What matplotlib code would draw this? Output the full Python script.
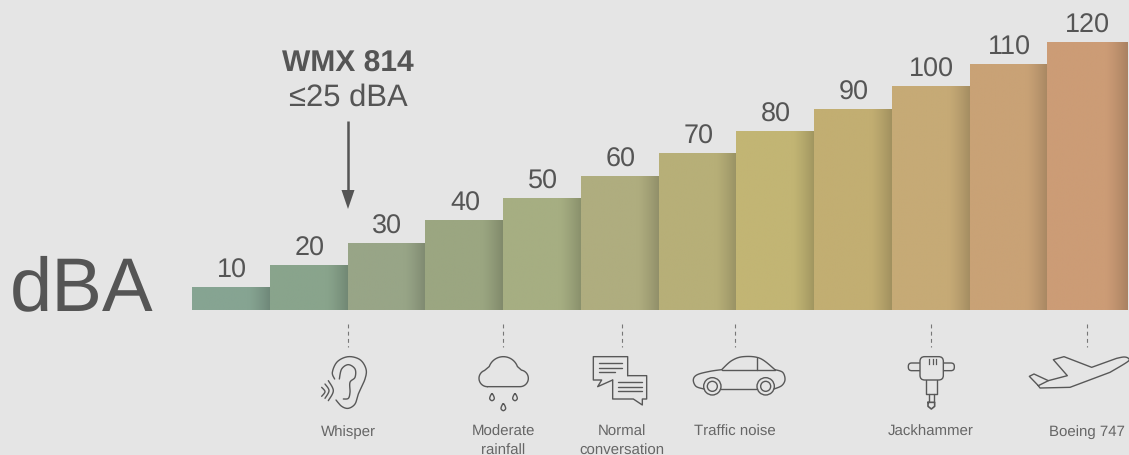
import numpy as np
import matplotlib
matplotlib.use("Agg")
import matplotlib.pyplot as plt
from matplotlib.patches import Circle, FancyBboxPatch

levels = [10, 20, 30, 40, 50, 60, 70, 80, 90, 100, 110, 120]
bar_colors = ["#86A492", "#89A48C", "#98A587", "#9BA681", "#A6AE82", "#AFAD7F",
              "#B7AF78", "#C2B574", "#C2AE72", "#C6AA76", "#C9A276", "#CC9C76"]
sources = ["Whisper", "Moderate\nrainfall", "Normal\nconversation",
           "Traffic noise", "Jackhammer", "Boeing 747"]
source_x = [348, 503, 622, 735, 931, 1087]

W, H = 1129, 456
BG = "#E5E5E5"
INK = "#555555"
ICON = "#585858"
plt.rcParams["font.family"] = ["Liberation Sans", "DejaVu Sans"]
plt.rcParams["text.hinting"] = "no_hinting"
plt.rcParams["text.hinting_factor"] = 1

fig = plt.figure(figsize=(W / 100, H / 100), dpi=100, facecolor=BG)

# Bars, on their own data scale
ax = fig.add_axes([192 / W, 1 - 310.9 / H, 933 / W, 268 / H])
ax.axis("off")
shade = np.linspace(0, 1, 200)
for i, (v, c) in enumerate(zip(levels, bar_colors)):
    wid = 1.03 if i == len(levels) - 1 else 1
    bar = ax.bar(i, v, width=wid, align="edge", color=c, linewidth=0, clip_on=False)[0]
    rgb = np.array(matplotlib.colors.to_rgb(c))
    k = 1 - 0.17 * np.clip((shade - 0.72) / 0.28, 0, 1) ** 1.3
    grad = (k[:, None] * rgb)[None, :, :]
    im = ax.imshow(grad, extent=[i, i + wid, 0, v], aspect="auto", zorder=2, interpolation="bilinear")
    im.set_clip_on(False)
    ax.annotate(str(v), (i + 0.5, v), xytext=(0.7, 7.6), textcoords="offset points",
                ha="center", va="baseline", fontsize=19.6, color=INK, annotation_clip=False)
ax.set_xlim(0, len(levels))
ax.set_ylim(0, max(levels))

# Overlay in pixel space for annotation and icons
ov = fig.add_axes([0, 0, 1, 1], facecolor="none")
ov.set_xlim(0, W)
ov.set_ylim(H, 0)
ov.axis("off")

ov.text(81.5, 310, "dBA", fontsize=54.5, color=INK, ha="center", va="baseline")
ov.text(348, 72, "WMX 814", fontsize=21.7, fontweight="bold", color=INK, ha="center", va="baseline")
ov.text(348, 106, "≤25 dBA", fontsize=22, color=INK, ha="center", va="baseline")
ov.plot([348, 348], [122, 195], color=INK, lw=1.8, solid_capstyle="butt")
ov.fill([341.5, 354.5, 348], [191, 191, 210], color=INK, lw=0)

for x, s in zip(source_x, sources):
    ov.plot([x, x], [325, 348], color="#777777", lw=0.8, ls=(0, (3.5, 3)))
    ov.text(x, 425, s, fontsize=11.1, color="#666666", ha="center", va="top", linespacing=1.42)


def smooth(p, closed=False, n=12):
    p = np.asarray(p, float)
    if closed:
        q = np.vstack([p[-1], p, p[0], p[1]])
    else:
        q = np.vstack([p[0], p, p[-1]])
    out = []
    t = np.linspace(0, 1, n, endpoint=False)[:, None]
    for i in range(1, len(q) - 2):
        a, b, c, d = q[i - 1], q[i], q[i + 1], q[i + 2]
        out.append(0.5 * (2 * b + (c - a) * t + (2 * a - 5 * b + 4 * c - d) * t ** 2
                          + (3 * b - a - 3 * c + d) * t ** 3))
    return np.vstack(out + [q[-2][None]])


def draw(pts, org, curve=False, closed=False, lw=1.0):
    p = np.asarray(pts, float)
    if curve:
        p = smooth(p, closed)
    elif closed:
        p = np.vstack([p, p[0]])
    ov.plot(org[0] + p[:, 0] / 3, org[1] + p[:, 1] / 3, color=ICON, lw=lw,
            solid_joinstyle="round", solid_capstyle="round", clip_on=False)


def arc(cx, cy, r, a0, a1, n=24):
    t = np.radians(np.linspace(a0, a1, n))
    return np.c_[cx + r * np.cos(t), cy + r * np.sin(t)]


A = (300, 320)
B = (660, 320)
# Ear
draw([(108, 243), (125, 262), (145, 268), (165, 255), (175, 225), (195, 180), (198, 150),
      (180, 122), (145, 113), (112, 128), (97, 160), (104, 180)], A, True)
draw([(118, 180), (125, 150), (145, 137), (165, 150), (165, 175), (150, 190), (150, 220),
      (145, 238), (130, 240)], A, True)
draw([(85, 185), (100, 215), (85, 245)], A, True)
draw([(75, 195), (87, 215), (75, 238)], A, True)
draw([(65, 205), (75, 218), (65, 232)], A, True)
# Cloud
cloud = np.vstack([arc(562, 178, 25, 90, 250), arc(610, 158, 45, 200, 340),
                   arc(660, 178, 25, -80, 90)])
draw(np.vstack([cloud, cloud[0]]), A)
for dx, dy in [(576, 224), (645, 224), (610, 254)]:
    draw([(dx, dy), (dx - 7, dy + 14), (dx, dy + 21), (dx + 7, dy + 14)], A, True, True)
# Chat
draw([(983, 170), (983, 113), (880, 113), (880, 183), (905, 183), (893, 203), (938, 183)], A)
draw([(983, 170), (1040, 170), (1040, 240), (1027, 240), (1027, 258), (1000, 240), (938, 240), (938, 183)], A)
for seg in [[(897, 133), (967, 133)], [(897, 147), (967, 147)], [(897, 160), (945, 160)],
            [(955, 190), (1025, 190)], [(955, 203), (1025, 203)], [(955, 216), (1025, 216)]]:
    draw(seg, A)
# Car
draw([(132, 210), (108, 202), (100, 182), (112, 167), (150, 157), (185, 152)], B, True)
draw([(345, 152), (368, 160), (375, 182), (365, 200), (342, 210)], B, True)
draw([(185, 152), (215, 125), (250, 113), (300, 118), (345, 152)], B, True)
draw([(180, 210), (292, 210)], B)
draw([(185, 152), (345, 152)], B)
draw([(290, 118), (290, 152)], B)
for cx in (157, 317):
    for r in (26, 15):
        ov.add_patch(Circle((660 + cx / 3, 320 + 202 / 3), r / 3, fc="none", ec=ICON, lw=1.0))


# Jackhammer
def rrect(x0, y0, x1, y1, r, org=B):
    ov.add_patch(FancyBboxPatch((org[0] + (x0 + r) / 3, org[1] + (y0 + r) / 3), (x1 - x0 - 2 * r) / 3,
                                (y1 - y0 - 2 * r) / 3, boxstyle=f"round,pad={r / 3}", fc=BG,
                                ec=ICON, lw=1.0, zorder=3))


rrect(745, 132, 883, 155, 10)
rrect(780, 113, 850, 183, 14)
draw([(797, 183), (797, 225), (832, 225), (832, 183)], B)
draw([(807, 225), (807, 250)], B)
draw([(822, 225), (822, 250)], B)
draw([(804, 250), (824, 250), (824, 262), (814, 270), (804, 262)], B, closed=True, lw=1.2)
for x in (808, 818, 828):
    ov.plot([660 + x / 3] * 2, [320 + 120 / 3, 320 + 135 / 3], color=ICON, lw=0.9, zorder=4)
# Plane
nose = smooth([(1370, 118), (1392, 114), (1405, 118), (1403, 128), (1350, 160)])
draw(np.vstack([[(1135, 200), (1108, 172), (1122, 165), (1165, 185), (1222, 170), (1180, 122),
                 (1212, 113), (1295, 145)], nose, [(1230, 205), (1140, 207), (1135, 200)]]), B)
draw([(1135, 200), (1165, 185)], B)

fig.savefig("out.png", dpi=100, facecolor=BG)
